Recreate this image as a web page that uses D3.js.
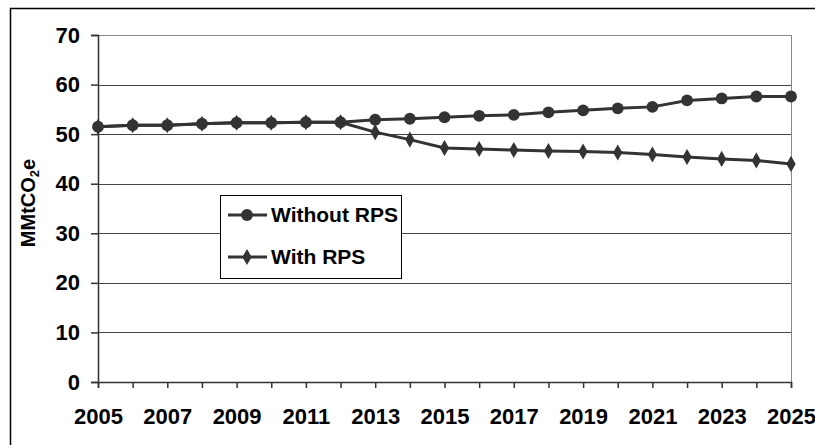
<!DOCTYPE html>
<html>
<head>
<meta charset="utf-8">
<script src="https://cdn.jsdelivr.net/npm/d3@7"></script>
<style>
  body { margin: 0; background: #fff; }
  svg { display: block; font-family: "Liberation Sans", Arial, sans-serif; }
</style>
</head>
<body>
<div id="chart"></div>
<script>
// Emissions, MMtCO2e
const years = d3.range(2005, 2026);
const withoutRps = [51.5, 51.8, 51.8, 52.1, 52.3, 52.3, 52.4, 52.4, 52.9, 53.1, 53.4,
                    53.7, 53.9, 54.4, 54.8, 55.2, 55.5, 56.8, 57.2, 57.6, 57.6];
const withRps = [51.5, 51.8, 51.8, 52.1, 52.3, 52.3, 52.4, 52.4, 50.4, 48.9, 47.2,
                 47.0, 46.8, 46.6, 46.5, 46.3, 45.9, 45.4, 45.0, 44.7, 44.0];
const yTicks = [0, 10, 20, 30, 40, 50, 60, 70];
const xLabels = [2005, 2007, 2009, 2011, 2013, 2015, 2017, 2019, 2021, 2023, 2025];
const seriesNames = ["Without RPS", "With RPS"];

const width = 815, height = 445;
const margin = { top: 35, right: 24, bottom: 63, left: 98 };
const ink = "#333";
const labelSize = 22;

const svg = d3.select("#chart").append("svg")
    .attr("width", width)
    .attr("height", height);

// outer frame (cropped on right and bottom)
svg.append("rect")
    .attr("x", 10.5).attr("y", 8.5)
    .attr("width", width + 20).attr("height", height + 20)
    .attr("fill", "none")
    .attr("stroke", "#000")
    .attr("stroke-width", 1.5);

const x = d3.scaleLinear()
    .domain([2005, 2025])
    .range([margin.left, width - margin.right]);
const y = d3.scaleLinear()
    .domain([0, 70])
    .range([height - margin.bottom, margin.top]);

// gridlines
svg.append("g")
    .selectAll("line")
    .data(yTicks.filter(d => d > 0))
    .enter().append("line")
    .attr("x1", x(2005)).attr("x2", x(2025))
    .attr("y1", d => Math.round(y(d)) + 0.5)
    .attr("y2", d => Math.round(y(d)) + 0.5)
    .attr("stroke", d => d === 70 ? "#888" : "#444")
    .attr("stroke-width", 1);

// right border of the plot area
svg.append("line")
    .attr("x1", x(2025) + 0.5).attr("x2", x(2025) + 0.5)
    .attr("y1", y(70)).attr("y2", y(0))
    .attr("stroke", "#888");

// y axis
const yAxis = svg.append("g")
    .attr("transform", `translate(${x(2005)},0)`)
    .call(d3.axisLeft(y).tickValues(yTicks).tickSize(7).tickPadding(11));
yAxis.select(".domain").attr("stroke", ink).attr("stroke-width", 1.5);
yAxis.selectAll(".tick line").attr("stroke", ink).attr("stroke-width", 1.5);
yAxis.selectAll(".tick text")
    .attr("font-size", labelSize).attr("font-weight", "bold").attr("fill", "#000")
    .attr("font-family", "Liberation Sans, Arial, sans-serif");

// x axis: tick every year, label every two years
const xAxis = svg.append("g")
    .attr("transform", `translate(0,${y(0)})`)
    .call(d3.axisBottom(x).tickValues(years).tickSize(6).tickPadding(20)
        .tickFormat(d => xLabels.includes(d) ? d : ""));
xAxis.select(".domain").attr("stroke", ink).attr("stroke-width", 1.5);
xAxis.selectAll(".tick line").attr("stroke", ink).attr("stroke-width", 1.5);
xAxis.selectAll(".tick text")
    .attr("font-size", labelSize).attr("font-weight", "bold").attr("fill", "#000")
    .attr("font-family", "Liberation Sans, Arial, sans-serif");

// y axis title
const title = svg.append("text")
    .attr("transform", "translate(35,203) rotate(-90)")
    .attr("text-anchor", "middle")
    .attr("font-size", 20)
    .attr("font-weight", "bold");
title.append("tspan").text("MMtCO");
title.append("tspan").attr("font-size", 13).attr("dy", 4).text("2");
title.append("tspan").attr("dy", -4).text("e");

// series
const line = d3.line()
    .x((d, i) => x(years[i]))
    .y(d => y(d));

const series = [
    { name: seriesNames[0], values: withoutRps, symbol: d3.symbolCircle, size: 110 },
    { name: seriesNames[1], values: withRps, symbol: d3.symbolDiamond, size: 75 }
];

series.slice().reverse().forEach(s => {
    svg.append("path")
        .datum(s.values)
        .attr("d", line)
        .attr("fill", "none")
        .attr("stroke", ink)
        .attr("stroke-width", 3);
    svg.append("g")
        .selectAll("path")
        .data(s.values)
        .enter().append("path")
        .attr("transform", (d, i) => `translate(${x(years[i])},${y(d)})`)
        .attr("d", d3.symbol().type(s.symbol).size(s.size))
        .attr("fill", ink);
});

// legend
const legend = svg.append("g").attr("transform", "translate(220,195)");
legend.append("rect")
    .attr("x", 0.5).attr("y", 0.5)
    .attr("width", 181).attr("height", 83)
    .attr("fill", "#fff")
    .attr("stroke", "#000")
    .attr("stroke-width", 1);

series.forEach((s, i) => {
    const row = legend.append("g").attr("transform", `translate(0,${20 + i * 42})`);
    row.append("line")
        .attr("x1", 8).attr("x2", 47)
        .attr("stroke", ink).attr("stroke-width", 3);
    row.append("path")
        .attr("transform", "translate(27,0)")
        .attr("d", d3.symbol().type(s.symbol).size(s.size))
        .attr("fill", ink);
    row.append("text")
        .attr("x", 51).attr("dy", "0.35em")
        .attr("font-size", 21)
        .attr("font-weight", "bold")
        .text(s.name);
});
</script>
</body>
</html>
